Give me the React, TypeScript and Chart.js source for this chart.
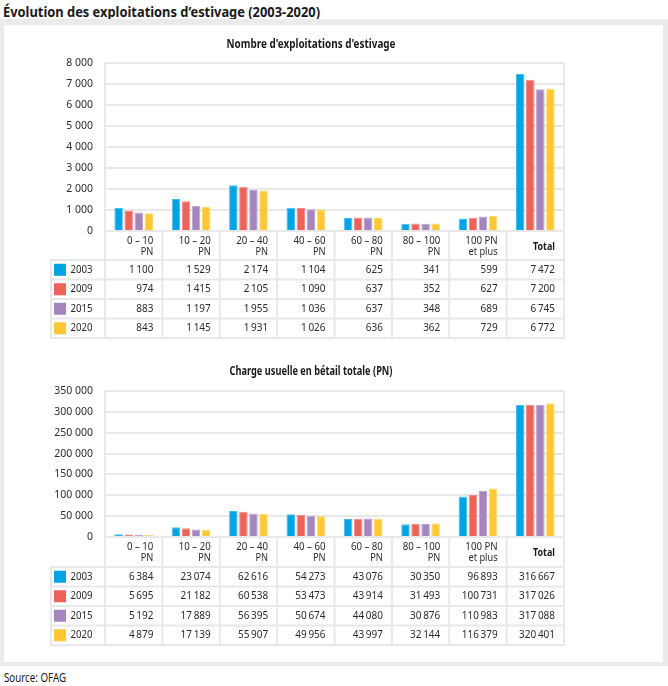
import React, { useEffect, useRef } from "react";
import { Chart, registerables } from "chart.js";

Chart.register(...registerables);

const FONT = "'Noto Sans', sans-serif";

const mainTitle = "Évolution des exploitations d’estivage (2003-2020)";
const sourceText = "Source: OFAG";
const title1 = "Nombre d'exploitations d'estivage";
const title2 = "Charge usuelle en bétail totale (PN)";

const categories: string[][] = [
  ["0 – 10", "PN"],
  ["10 – 20", "PN"],
  ["20 – 40", "PN"],
  ["40 – 60", "PN"],
  ["60 – 80", "PN"],
  ["80 – 100", "PN"],
  ["100 PN", "et plus"],
  ["Total"],
];
const years = ["2003", "2009", "2015", "2020"];
const colors = ["#00a3e4", "#ec6359", "#a585be", "#fec834"];
const borderColors = ["#45bdee", "#f28a82", "#bba2d0", "#ffd866"];

const farms2003 = [1100, 1529, 2174, 1104, 625, 341, 599, 7472];
const farms2009 = [974, 1415, 2105, 1090, 637, 352, 627, 7200];
const farms2015 = [883, 1197, 1955, 1036, 637, 348, 689, 6745];
const farms2020 = [843, 1145, 1931, 1026, 636, 362, 729, 6772];

const load2003 = [6384, 23074, 62616, 54273, 43076, 30350, 96893, 316667];
const load2009 = [5695, 21182, 60538, 53473, 43914, 31493, 100731, 317026];
const load2015 = [5192, 17889, 56395, 50674, 44080, 30876, 110983, 317088];
const load2020 = [4879, 17139, 55907, 49956, 43997, 32144, 116379, 320401];

const farmsMax = 8000;
const farmsStep = 1000;
const loadMax = 350000;
const loadStep = 50000;

function fmt(n: number, sep: string) {
  return Math.round(n).toString().replace(/\B(?=(\d{3})+(?!\d))/g, sep);
}

function measure(text: string, font: string) {
  const c = document.createElement("canvas").getContext("2d")!;
  c.font = font;
  return c.measureText(text).width;
}

function drawScaled(
  ctx: CanvasRenderingContext2D,
  text: string,
  x: number,
  y: number,
  align: CanvasTextAlign,
  font: string,
  sx: number,
  color: string
) {
  ctx.save();
  ctx.translate(x, y);
  ctx.scale(sx, 1);
  ctx.font = font;
  ctx.fillStyle = color;
  ctx.textAlign = align;
  ctx.textBaseline = "middle";
  ctx.fillText(text, 0, 0);
  ctx.restore();
}

type PanelProps = {
  series: number[][];
  max: number;
  step: number;
  height: number;
  title: string;
  titleWidth: number;
  titleY: number;
  plotTop: number;
  plotBottom: number;
  headerH: number;
  rowH: number;
};

const GRID = "#e8e8e8";
const TEXT = "#2b2b2b";

function ChartPanel(p: PanelProps) {
  const ref = useRef<HTMLCanvasElement>(null);
  useEffect(() => {
    const canvas = ref.current!;
    const tablePlugin = {
      id: "tablePlugin",
      beforeDatasetsDraw(chart: any) {
        const { ctx, chartArea: a } = chart;
        ctx.save();
        ctx.strokeStyle = GRID;
        ctx.lineWidth = 2;
        ctx.beginPath();
        ctx.moveTo(a.left, a.top);
        ctx.lineTo(a.left, a.bottom);
        ctx.moveTo(a.right, a.top);
        ctx.lineTo(a.right, a.bottom);
        ctx.stroke();
        ctx.restore();
      },
      afterDraw(chart: any) {
        const { ctx, chartArea: a, scales } = chart;
        const xs = scales.x;
        const n = categories.length;
        const w = xs.getPixelForValue(1) - xs.getPixelForValue(0);
        const edges: number[] = [];
        for (let i = 0; i < n; i++) edges.push(xs.getPixelForValue(i) - w / 2);
        edges.push(xs.getPixelForValue(n - 1) + w / 2);

        // chart title
        const tFont = `bold 11.5px ${FONT}`;
        const tw = measure(p.title, tFont);
        drawScaled(ctx, p.title, 306, p.titleY, "center", tFont, p.titleWidth / tw, "#1a1a1a");

        const top = a.bottom;
        const hb = top + p.headerH;
        const rows = [0, 1, 2, 3, 4].map((i) => hb + i * p.rowH);
        const legL = a.left - 54;
        const right = edges[n];

        ctx.save();
        ctx.strokeStyle = GRID;
        ctx.lineWidth = 2;
        ctx.beginPath();
        for (const e of edges) {
          ctx.moveTo(e, top);
          ctx.lineTo(e, rows[4]);
        }
        ctx.moveTo(legL, hb);
        ctx.lineTo(legL, rows[4]);
        for (const r of rows) {
          ctx.moveTo(legL - 1, r);
          ctx.lineTo(right + 1, r);
        }
        ctx.stroke();
        ctx.restore();

        const reg = `10.5px ${FONT}`;
        const bold = `bold 10.5px ${FONT}`;
        // header
        categories.forEach((lines, i) => {
          const xr = edges[i + 1] - 9;
          if (lines.length === 1) {
            drawScaled(ctx, lines[0], xr, top + 16, "right", bold, 0.85, "#1a1a1a");
          } else {
            drawScaled(ctx, lines[0], xr, top + 10, "right", reg, 0.92, TEXT);
            drawScaled(ctx, lines[1], xr, top + 21, "right", reg, 0.88, TEXT);
          }
        });
        // rows
        p.series.forEach((vals, r) => {
          const cy = rows[r] + p.rowH / 2;
          ctx.fillStyle = colors[r];
          ctx.fillRect(legL + 3, cy - 6, 12, 12);
          drawScaled(ctx, years[r], legL + 19.5, cy, "left", reg, 0.92, TEXT);
          vals.forEach((v, i) => {
            drawScaled(ctx, fmt(v, "\u2009"), edges[i + 1] - 9, cy, "right", reg, 0.95, TEXT);
          });
        });
      },
    };

    const chart = new Chart(canvas, {
      type: "bar",
      data: {
        labels: categories.map((c) => c.join(" ")),
        datasets: p.series.map((d, i) => ({
          label: years[i],
          data: d,
          backgroundColor: colors[i],
          borderColor: borderColors[i],
          borderWidth: 1,
          categoryPercentage: 0.7,
          barPercentage: 0.85,
        })),
      },
      options: {
        responsive: false,
        animation: false,
        layout: {
          padding: { left: 0, right: 99, top: p.plotTop, bottom: p.height - p.plotBottom },
        },
        plugins: {
          legend: { display: false },
          title: { display: false },
          tooltip: { enabled: false },
        },
        scales: {
          x: { display: false },
          y: {
            min: 0,
            max: p.max,
            ticks: {
              stepSize: p.step,
              padding: 12,
              color: TEXT,
              font: { family: FONT, size: 10.5 },
              callback: (v: any) => fmt(Number(v), " "),
            },
            grid: { color: GRID, lineWidth: 2, drawTicks: false },
            border: { display: false },
            afterFit: (s: any) => {
              s.width = 100;
            },
          },
        },
      },
      plugins: [tablePlugin],
    } as any);
    return () => chart.destroy();
  }, []);
  return <canvas ref={ref} width={658} height={p.height} style={{ display: "block", width: 658, height: p.height }} />;
}

export default function App() {
  const titleFont = `bold 15px ${FONT}`;
  const titleScale = 317 / measure(mainTitle, titleFont);
  const srcFont = `12px ${FONT}`;
  const srcScale = 62 / measure(sourceText, srcFont);
  return (
    <div style={{ position: "absolute", left: 0, top: 0, width: 668, height: 686, background: "#fff", overflow: "hidden", fontFamily: FONT }}>
      <div
        style={{
          position: "absolute",
          left: 3,
          top: 2,
          font: titleFont,
          color: "#1a1a1a",
          whiteSpace: "nowrap",
          lineHeight: "18px",
          transform: `scaleX(${titleScale})`,
          transformOrigin: "left top",
        }}
      >
        {mainTitle}
      </div>
      <div style={{ position: "absolute", left: 0, top: 19, width: 668, height: 647, background: "#ebebeb" }} />
      <div style={{ position: "absolute", left: 4, top: 25, width: 659, height: 637, background: "#fff" }} />
      <div style={{ position: "absolute", left: 5, top: 25 }}>
        <ChartPanel
          series={[farms2003, farms2009, farms2015, farms2020]}
          max={farmsMax}
          step={farmsStep}
          height={320}
          title={title1}
          titleWidth={169}
          titleY={20}
          plotTop={38}
          plotBottom={206}
          headerH={29}
          rowH={19.5}
        />
      </div>
      <div style={{ position: "absolute", left: 5, top: 345 }}>
        <ChartPanel
          series={[load2003, load2009, load2015, load2020]}
          max={loadMax}
          step={loadStep}
          height={315}
          title={title2}
          titleWidth={163}
          titleY={27}
          plotTop={46}
          plotBottom={192}
          headerH={30}
          rowH={19.5}
        />
      </div>
      <div
        style={{
          position: "absolute",
          left: 4,
          top: 670,
          font: srcFont,
          color: "#1a1a1a",
          whiteSpace: "nowrap",
          lineHeight: "16px",
          transform: `scaleX(${srcScale})`,
          transformOrigin: "left top",
        }}
      >
        {sourceText}
      </div>
    </div>
  );
}
